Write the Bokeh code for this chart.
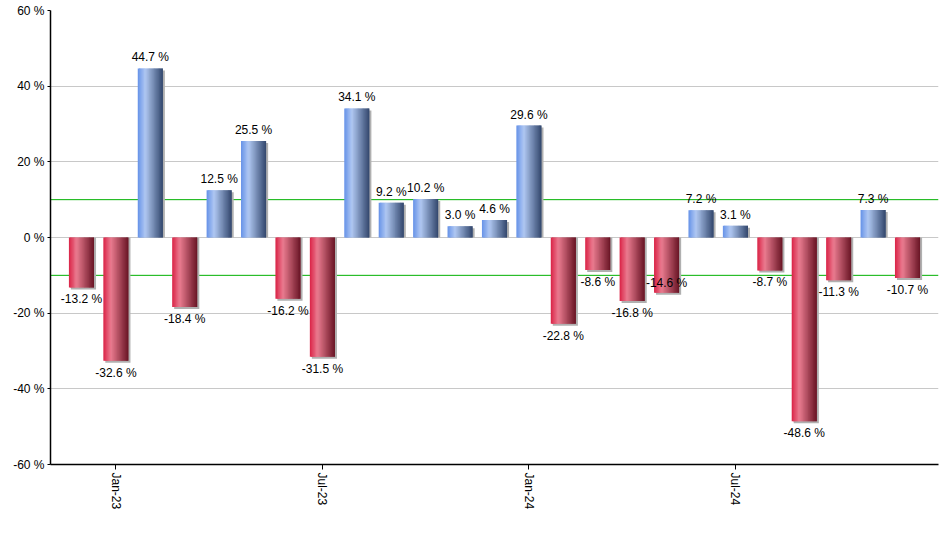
import numpy as np
from bokeh.plotting import figure
from bokeh.models import Range1d, FixedTicker, ColumnDataSource
from bokeh.core.properties import value
from bokeh.embed import file_html
from bokeh.resources import INLINE

# ---- data ----
months = ["Dec-22", "Jan-23", "Feb-23", "Mar-23", "Apr-23", "May-23", "Jun-23",
          "Jul-23", "Aug-23", "Sep-23", "Oct-23", "Nov-23", "Dec-23",
          "Jan-24", "Feb-24", "Mar-24", "Apr-24", "May-24", "Jun-24",
          "Jul-24", "Aug-24", "Sep-24", "Oct-24", "Nov-24", "Dec-24"]
returns = [-13.2, -32.6, 44.7, -18.4, 12.5, 25.5, -16.2, -31.5, 34.1, 9.2,
           10.2, 3.0, 4.6, 29.6, -22.8, -8.6, -16.8, -14.6, 7.2, 3.1,
           -8.7, -48.6, -11.3, 7.3, -10.7]
y_ticks = [-60, -40, -20, 0, 20, 40, 60]
y_tick_labels = ["-60 %", "-40 %", "-20 %", "0 %", "20 %", "40 %", "60 %"]
band_levels = [10, -10]
x_tick_labels = ["Jan-23", "Jul-23", "Jan-24", "Jul-24"]

# ---- styles ----
FONT = "Liberation Sans"
BAR_W = 0.73
N_STRIPS = 20
RED_STOPS = [(0.0, (218, 34, 70)), (0.3, (234, 124, 144)), (1.0, (104, 20, 36))]
BLUE_STOPS = [(0.0, (102, 146, 232)), (0.3, (176, 200, 242)), (1.0, (50, 70, 108))]
label_nudge = {17: -22}

def grad(stops, t):
    for (t0, c0), (t1, c1) in zip(stops[:-1], stops[1:]):
        if t <= t1:
            f = (t - t0) / (t1 - t0)
            return "#%02x%02x%02x" % tuple(int(round(a + (b - a) * f)) for a, b in zip(c0, c1))
    return "#%02x%02x%02x" % stops[-1][1]

idx = np.arange(len(months))
vals = np.array(returns)

xr = Range1d(-0.9, 24.9)
p = figure(width=939, height=544, output_backend="svg", toolbar_location=None,
           x_range=xr, y_range=Range1d(-60, 60),
           min_border_left=50, min_border_right=1, min_border_top=10,
           min_border_bottom=80)
p.outline_line_color = None
p.background_fill_color = "white"
p.border_fill_color = "white"

# reference lines
p.segment(x0=[xr.start] * len(band_levels), x1=[xr.end] * len(band_levels),
          y0=band_levels, y1=band_levels, line_color="#00b000", line_width=1)

# shadows
px_x = 1.0 / (888 / 25.8)
px_y = 120.0 / 454
sh_top = np.where(vals > 0, vals - 2 * px_y, 0.0)
sh_bot = np.where(vals > 0, 0.0, vals - 2 * px_y)
p.vbar(x=idx + 2 * px_x, top=sh_top, bottom=sh_bot, width=BAR_W,
       fill_color="#b0b0b0", line_color=None)

# gradient bars
lefts, rights, tops, cols = [], [], [], []
sw = BAR_W / N_STRIPS
for i, v in zip(idx, vals):
    stops = BLUE_STOPS if v > 0 else RED_STOPS
    bl = i - BAR_W / 2
    br = i + BAR_W / 2
    for k in range(N_STRIPS):
        t = (k + 0.5) / N_STRIPS
        lefts.append(bl + k * sw)
        rights.append(min(bl + (k + 1.8) * sw, br))
        tops.append(v)
        cols.append(grad(stops, t))
p.quad(left=lefts, right=rights, top=tops, bottom=0, fill_color=cols, line_color=None)

# labels
labels = [("%.1f %%" % v) for v in vals]
yoff = []
for i, v in enumerate(vals):
    if v > 0:
        yoff.append(-4)
    else:
        yoff.append(5 + label_nudge.get(i, 0))
pos = [i for i, v in enumerate(vals) if v > 0]
neg = [i for i, v in enumerate(vals) if v <= 0]
for sel, bl in ((pos, "bottom"), (neg, "top")):
    s = ColumnDataSource(dict(x=idx[sel], y=vals[sel], t=[labels[i] for i in sel],
                              yo=[yoff[i] for i in sel]))
    p.text(x="x", y="y", text="t", y_offset="yo", source=s, text_align="center",
           text_baseline=bl, text_font=value(FONT), text_font_size="12px",
           text_color="black")

# axes
p.xgrid.visible = False
p.ygrid.grid_line_color = "#c8c8c8"
p.ygrid.ticker = FixedTicker(ticks=y_ticks)

p.yaxis.ticker = FixedTicker(ticks=y_ticks)
p.yaxis.major_label_overrides = {t: l for t, l in zip(y_ticks, y_tick_labels)}
x_ticks = [months.index(m) for m in x_tick_labels]
p.xaxis.ticker = FixedTicker(ticks=x_ticks)
p.xaxis.major_label_overrides = {t: l for t, l in zip(x_ticks, x_tick_labels)}
p.xaxis.major_label_orientation = "vertical"

for ax in (p.xaxis, p.yaxis):
    ax.axis_line_color = "black"
    ax.axis_line_width = 1.5
    ax.major_tick_line_color = "black"
    ax.major_tick_in = 0
    ax.minor_tick_line_color = None
    ax.major_label_text_font = FONT
    ax.major_label_text_font_size = "12px"
    ax.major_label_text_color = "black"
p.xaxis.major_tick_out = 5
p.xaxis.major_label_standoff = 3
p.yaxis.major_tick_out = 3
p.yaxis.major_label_standoff = 3

open("out.html", "w").write(file_html(p, INLINE))
